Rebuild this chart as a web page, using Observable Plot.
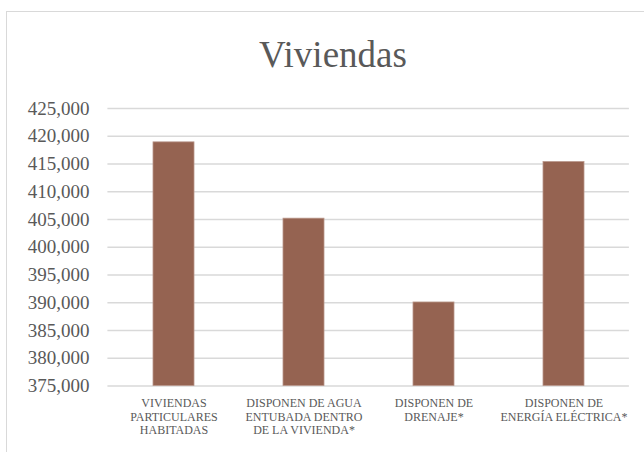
<!DOCTYPE html>
<html>
<head>
<meta charset="utf-8">
<script src="https://cdn.jsdelivr.net/npm/d3@7"></script>
<script src="https://cdn.jsdelivr.net/npm/@observablehq/plot@0.6"></script>
<style>
  html, body { margin: 0; padding: 0; background: #fff; }
  #wrap { position: relative; width: 644px; height: 452px; overflow: hidden; background: #fff; }
  #frame { position: absolute; left: 6px; top: 11px; width: 720px; height: 520px; box-sizing: border-box; border: 1.5px solid #d9d9d9; }
  #title { position: absolute; left: 0; top: 36px; width: 666px; text-align: center; font-family: "Liberation Serif", serif; font-size: 37px; line-height: 37px; color: #595959; }
  #chart { position: absolute; left: 0; top: 0; }
</style>
</head>
<body>
<div id="wrap">
  <div id="frame"></div>
  <div id="title"></div>
  <div id="chart"></div>
</div>
<script>
const title = "Viviendas";
const categories = [
  "VIVIENDAS\nPARTICULARES\nHABITADAS",
  "DISPONEN DE AGUA\nENTUBADA DENTRO\nDE LA VIVIENDA*",
  "DISPONEN DE\nDRENAJE*",
  "DISPONEN DE\nENERGÍA ELÉCTRICA*"
];
const values = [418900, 405150, 390050, 415350];
const yTicks = [375000, 380000, 385000, 390000, 395000, 400000, 405000, 410000, 415000, 420000, 425000];
const yMin = 375000;
const yMax = 425000;

document.getElementById("title").textContent = title;

const data = categories.map((c, i) => ({category: c, value: values[i], base: yMin}));

const chart = Plot.plot({
  width: 644,
  height: 452,
  marginTop: 108,
  marginBottom: 66.5,
  marginLeft: 107.4,
  marginRight: 15.1,
  style: {background: "transparent", fontFamily: "Liberation Serif, serif", color: "#595959", overflow: "visible"},
  x: {domain: categories, paddingInner: 0.688, paddingOuter: 0.344, label: null},
  y: {domain: [yMin, yMax], label: null},
  marks: [
    Plot.gridY(yTicks, {stroke: "#d9d9d9", strokeOpacity: 1, strokeWidth: 1.5}),
    Plot.barY(data, {x: "category", y1: "base", y2: "value", fill: "#956351", stroke: "#b9968a", strokeWidth: 0.8, inset: 0}),
    Plot.axisY(yTicks, {tickSize: 0, tickPadding: 18.4, tickFormat: d3.format(","), fontSize: 19, fill: "#595959", label: null}),
    Plot.axisX({tickSize: 0, tickPadding: 12, fontSize: 12, lineHeight: 1.11, fill: "#595959", label: null, lineAnchor: "top"})
  ]
});
document.getElementById("chart").appendChild(chart);
</script>
</body>
</html>
